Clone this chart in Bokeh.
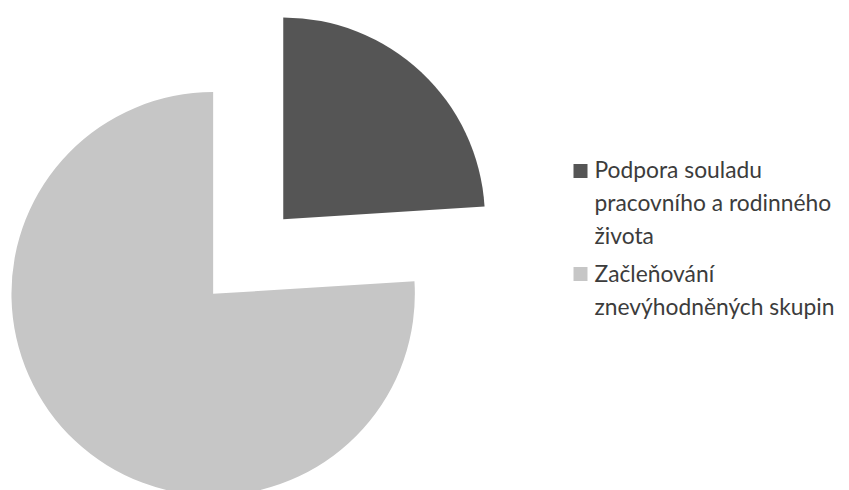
import math
from bokeh.plotting import figure
from bokeh.models import Range1d
from bokeh.core.properties import value
from bokeh.embed import file_html
from bokeh.resources import INLINE

# ---- data ----
categories = ["Podpora souladu pracovního a rodinného života",
              "Začleňování znevýhodněných skupin"]
shares = [24, 76]
colors = ["#555555", "#c6c6c6"]
legend_lines = [["Podpora souladu", "pracovního a rodinného", "života"],
                ["Začleňování", "znevýhodněných skupin"]]

W, H = 849, 490
p = figure(width=W, height=H, output_backend="svg", toolbar_location=None,
           x_range=Range1d(0, W), y_range=Range1d(0, H),
           min_border=0)
p.axis.visible = False
p.grid.visible = False
p.outline_line_color = None
p.background_fill_color = "white"
p.border_fill_color = "white"

# pie geometry (data units = pixels, y up; screen_y = H - y)
cx, cy = 247.7, H - 256.0
radius = 201.7
explode = 51.2

total = float(sum(shares))
start = math.pi / 2
for share, col in zip(shares, colors):
    sweep = 2 * math.pi * share / total
    end = start - sweep
    mid = (start + end) / 2
    ox = cx + explode * math.cos(mid)
    oy = cy + explode * math.sin(mid)
    p.wedge(x=[ox], y=[oy], radius=radius, start_angle=[start], end_angle=[end],
            direction="clock", fill_color=col, line_color=None)
    start = end

# legend
legend_x_sq = 580
legend_x_text = 594
square_centers = [170.5, 273.5]
first_rows = [168.0, 272.0]
line_step = 33.0
for lines, col, sq, b0 in zip(legend_lines, colors, square_centers, first_rows):
    p.scatter(x=[legend_x_sq], y=[H - sq], marker="square", size=14,
              fill_color=col, line_color=None)
    xs = [legend_x_text] * len(lines)
    ys = [H - (b0 + i * line_step) for i in range(len(lines))]
    p.text(x=xs, y=ys, text=lines, text_font=value("Lato"),
           text_font_size="22.8px", text_color="#3c3c3c",
           text_baseline="alphabetic", text_align="left")

open("out.html", "w").write(file_html(p, INLINE))
